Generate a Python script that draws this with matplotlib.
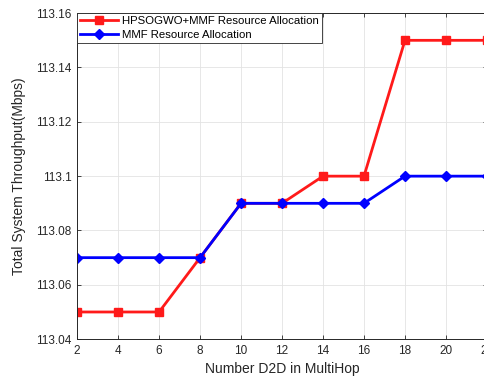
import matplotlib
matplotlib.use("Agg")
import matplotlib.pyplot as plt

# number of D2D pairs and throughput values
d2d_number = [2, 4, 6, 8, 10, 12, 14, 16, 18, 20, 22]
hpsogwo_mmf = [113.05, 113.05, 113.05, 113.07, 113.09, 113.09,
               113.10, 113.10, 113.15, 113.15, 113.15]
mmf_only = [113.07, 113.07, 113.07, 113.07, 113.09, 113.09,
            113.09, 113.09, 113.10, 113.10, 113.10]
y_ticks = [113.04, 113.06, 113.08, 113.1, 113.12, 113.14, 113.16]
y_tick_labels = ["113.04", "113.06", "113.08", "113.1", "113.12", "113.14", "113.16"]

plt.rcParams["font.family"] = ["Liberation Sans", "DejaVu Sans"]

fig = plt.figure(figsize=(4.85, 3.76), dpi=100)
ax = fig.add_axes([0.159, 0.098, 0.845, 0.867])

ax.plot(d2d_number, hpsogwo_mmf, color="#ff1a1a", linewidth=2,
        marker="s", markersize=5.5, label="HPSOGWO+MMF Resource Allocation")
ax.plot(d2d_number, mmf_only, color="#0000ff", linewidth=2,
        marker="D", markersize=5, label="MMF Resource Allocation")

ax.set_xlim(2, 22)
ax.set_ylim(113.04, 113.16)
ax.set_xticks(d2d_number)
ax.set_yticks(y_ticks)
ax.set_yticklabels(y_tick_labels)
ax.tick_params(direction="in", labelsize=8.5, colors="#262626",
               length=3, width=0.6, top=True, right=True, pad=4)
ax.grid(True, color="#e3e3e3", linewidth=0.6)
ax.set_axisbelow(True)
for sp in ax.spines.values():
    sp.set_color("#262626")
    sp.set_linewidth(0.7)

ax.set_xlabel("Number D2D in MultiHop", fontsize=10, color="#262626", labelpad=4)
ax.set_ylabel("Total System Throughput(Mbps)", fontsize=10, color="#262626", labelpad=7)

leg = ax.legend(loc="upper left", fontsize=8.2, fancybox=False, framealpha=1,
                edgecolor="#262626", borderaxespad=0, handlelength=3.3,
                handletextpad=0.4, borderpad=0.25, labelspacing=0.35)
leg.get_frame().set_linewidth(0.6)

fig.savefig("out.png", dpi=100)
